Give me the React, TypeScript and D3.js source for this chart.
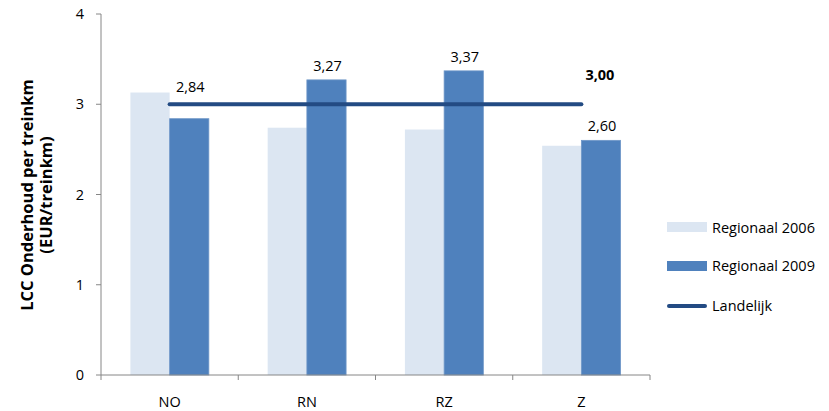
import React from "react";
import * as d3 from "d3";

const categories = ["NO", "RN", "RZ", "Z"];
const series2006 = [3.13, 2.74, 2.72, 2.54];
const series2009 = [2.84, 3.27, 3.37, 2.6];
const landelijk = 3.0;
const yTicks = [0, 1, 2, 3, 4];
const seriesNames = ["Regionaal 2006", "Regionaal 2009"];
const lineName = "Landelijk";

const W = 829;
const H = 411;
const FONT = "'Open Sans', 'Noto Sans', sans-serif";
const FS = 14.5;
const C2006 = "#DCE6F2";
const C2009 = "#4F81BD";
const CLINE = "#234B83";
const AXIS = "#868686";

const fmt = (v: number) => v.toFixed(2).replace(".", ",");

export default function App() {
  const x = d3.scaleBand<string>().domain(categories).range([101, 650]).padding(0);
  const bw = x.bandwidth();
  const gap = bw * (0.75 / 3.5);
  const xs = d3.scaleBand<string>().domain(["a", "b"]).range([gap, bw - gap]).padding(0);
  const y = d3.scaleLinear().domain([0, 4]).range([375, 14]);

  const lineGen = d3
    .line<number>()
    .x((_, i) => (x(categories[i]) as number) + bw / 2)
    .y(() => y(landelijk));
  const linePts = categories.map(() => landelijk);
  const lineY = y(landelijk);
  const lastX = (x(categories[categories.length - 1]) as number) + bw / 2;

  return (
    <svg
      width={W}
      height={H}
      style={{ position: "absolute", left: 0, top: 0, background: "#fff" }}
      fontFamily={FONT}
    >
      {/* bars */}
      {categories.map((c, i) => {
        const x0 = x(c) as number;
        return (
          <g key={c}>
            <rect
              x={x0 + (xs("a") as number)}
              y={y(series2006[i])}
              width={xs.bandwidth()}
              height={y(0) - y(series2006[i])}
              fill={C2006}
            />
            <rect
              x={x0 + (xs("b") as number)}
              y={y(series2009[i])}
              width={xs.bandwidth()}
              height={y(0) - y(series2009[i])}
              fill={C2009}
              stroke="#6F97C8"
              strokeWidth={0.8}
            />
          </g>
        );
      })}

      {/* landelijk line */}
      <path
        d={lineGen(linePts) || ""}
        fill="none"
        stroke={CLINE}
        strokeWidth={4}
        strokeLinecap="round"
      />
      <text
        x={lastX + 4}
        y={lineY - 24}
        fontSize={FS}
        fontWeight="bold"
        fill="#000"
      >
        {fmt(landelijk)}
      </text>

      {/* data labels 2009 */}
      {categories.map((c, i) => {
        const cx = (x(c) as number) + (xs("b") as number) + xs.bandwidth() / 2;
        let cy = y(series2009[i]) - 14;
        if (Math.abs(cy - lineY) < 12) cy = lineY - 17;
        return (
          <text
            key={c}
            x={cx + 1}
            y={cy + 5}
            textAnchor="middle"
            fontSize={FS}
            fill="#000"
          >
            {fmt(series2009[i])}
          </text>
        );
      })}

      {/* y axis */}
      <line x1={101} x2={101} y1={y(4)} y2={y(0)} stroke={AXIS} strokeWidth={1} />
      {yTicks.map((t) => (
        <g key={t}>
          <line x1={96} x2={101} y1={y(t)} y2={y(t)} stroke={AXIS} />
          <text x={84} y={y(t) + 5} textAnchor="end" fontSize={FS} fill="#000">
            {t}
          </text>
        </g>
      ))}

      {/* x axis */}
      <line x1={101} x2={650} y1={y(0)} y2={y(0)} stroke={AXIS} strokeWidth={1} />
      {[...categories.map((c) => x(c) as number), 650].map((v, i) => (
        <line key={i} x1={v} x2={v} y1={y(0)} y2={y(0) + 5} stroke={AXIS} />
      ))}
      {categories.map((c) => (
        <text
          key={c}
          x={(x(c) as number) + bw / 2}
          y={407}
          textAnchor="middle"
          fontSize={FS}
          fill="#000"
        >
          {c}
        </text>
      ))}

      {/* y title */}
      <g transform="translate(0,195) rotate(-90)">
        <text x={0} y={33} textAnchor="middle" fontSize={16.5} fontWeight="bold" fill="#000">
          LCC Onderhoud per treinkm
        </text>
        <text x={0} y={52} textAnchor="middle" fontSize={16.5} fontWeight="bold" fill="#000">
          (EUR/treinkm)
        </text>
      </g>

      {/* legend */}
      <rect x={667} y={222} width={40} height={10} fill={C2006} />
      <text x={712} y={233} fontSize={FS} fill="#000">
        {seriesNames[0]}
      </text>
      <rect x={667} y={261} width={40} height={10} fill={C2009} />
      <text x={712} y={271} fontSize={FS} fill="#000">
        {seriesNames[1]}
      </text>
      <line x1={669} x2={705} y1={306} y2={306} stroke={CLINE} strokeWidth={4} strokeLinecap="round" />
      <text x={712} y={311} fontSize={FS} fill="#000">
        {lineName}
      </text>
    </svg>
  );
}
